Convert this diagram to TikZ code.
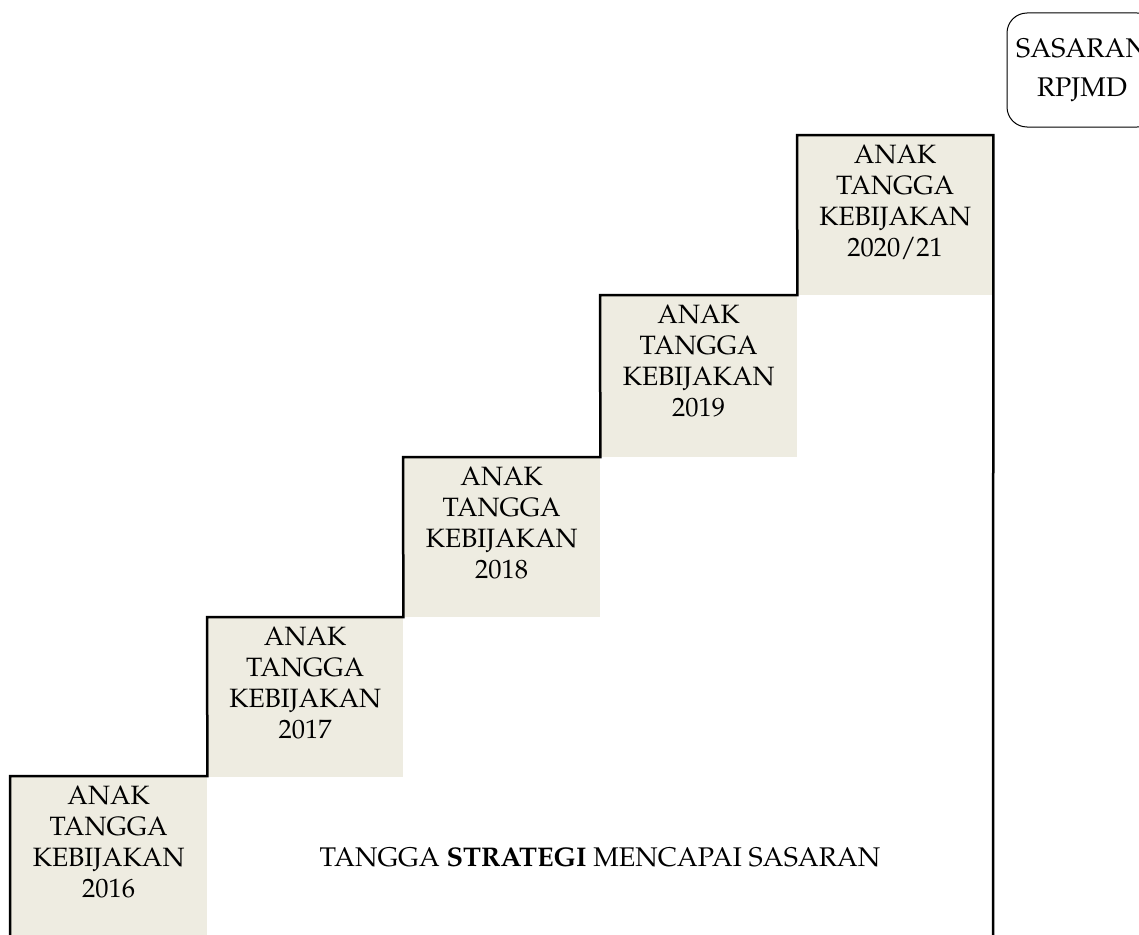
\documentclass[tikz,border=0pt]{standalone}
\usepackage[T1]{fontenc}
\usepackage{mathpazo}
\definecolor{stepfill}{HTML}{EEECE1}
\begin{document}
\begin{tikzpicture}[x=1pt,y=-1pt,
  stepbox/.style={fill=stepfill, draw=none, inner sep=0pt, anchor=north west},
  steptext/.style={inner sep=0pt, anchor=north, yshift=-10pt, align=center,
    font=\fontsize{26.5}{31}\selectfont},
  outline/.style={line width=2.5pt, line join=miter, black},
  goalbox/.style={draw, line width=1pt, rounded corners=20pt, minimum width=150pt,
    minimum height=114pt, inner sep=0pt, align=center,
    font=\fontsize{27}{39}\selectfont}]
\clip (0,0) rectangle (1139,934);
\fill[white] (0,0) rectangle (1139,934);
% step fills
\node[stepbox, minimum width=197pt, minimum height=160pt] (b1) at (10,776) {};
\node[stepbox, minimum width=196pt, minimum height=160pt] (b2) at (207,617) {};
\node[stepbox, minimum width=197pt, minimum height=160pt] (b3) at (403,457) {};
\node[stepbox, minimum width=197pt, minimum height=162pt] (b4) at (600,295) {};
\node[stepbox, minimum width=196pt, minimum height=160pt] (b5) at (797,135) {};
% texts
\node[steptext] (t1) at (b1.north) {ANAK\\TANGGA\\KEBIJAKAN\\2016};
\node[steptext] (t2) at (b2.north) {ANAK\\TANGGA\\KEBIJAKAN\\2017};
\node[steptext] (t3) at (b3.north) {ANAK\\TANGGA\\KEBIJAKAN\\2018};
\node[steptext] (t4) at (b4.north) {ANAK\\TANGGA\\KEBIJAKAN\\2019};
\node[steptext] (t5) at (b5.north) {ANAK\\TANGGA\\KEBIJAKAN\\2020/21};
% staircase outline
\coordinate (bottomright) at (993,945);
\coordinate (bottomleft) at (10,945);
\draw[outline] (bottomleft) -- (b1.north west) -- (b1.north east)
  -- (b2.north west) -- (b2.north east)
  -- (b3.north west) -- (b3.north east)
  -- (b4.north west) -- (b4.north east)
  -- (b5.north west) -- (b5.north east) -- (bottomright);
% centre label
\node[inner sep=0pt, font=\fontsize{27}{31}\selectfont] (c) at (600,857)
  {TANGGA \textbf{STRATEGI} MENCAPAI SASARAN};
% goal box
\node[goalbox] (g) at (1082,70) {SASARAN\\RPJMD};
\end{tikzpicture}
\end{document}
